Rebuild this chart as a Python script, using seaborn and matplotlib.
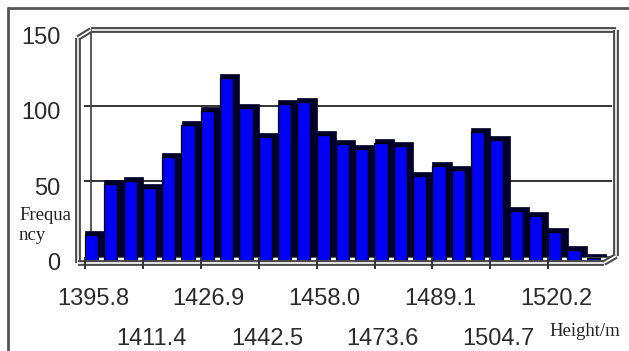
import matplotlib
matplotlib.use("Agg")
import numpy as np
import pandas as pd
import seaborn as sns
import matplotlib.pyplot as plt
import matplotlib.patheffects as pe
from matplotlib.lines import Line2D
from matplotlib.transforms import ScaledTranslation

# height histogram: 27 bins, three bins between labelled ticks
bin_start = 1395.8
bin_width = 15.55 / 3
frequency = [17, 51, 53, 48, 69, 90, 99, 121, 101, 82, 104, 105, 83, 77, 74,
             78, 76, 56, 63, 60, 85, 80, 33, 30, 19, 7, 2]
tick_values = [1395.8, 1411.4, 1426.9, 1442.5, 1458.0, 1473.6, 1489.1, 1504.7, 1520.2]
tick_labels = ["1395.8", "1411.4", "1426.9", "1442.5", "1458.0",
               "1473.6", "1489.1", "1504.7", "1520.2"]
y_ticks = [0, 50, 100, 150]

centers = bin_start + bin_width * (np.arange(len(frequency)) + 0.5)
df = pd.DataFrame({"height": centers, "freq": frequency})

sns.set_style("white")
plt.rcParams["font.family"] = ["Liberation Sans", "DejaVu Sans"]

W, H = 629, 351
fig = plt.figure(figsize=(W / 100, H / 100), dpi=100)
fig.patch.set_facecolor("white")
ax = fig.add_axes([84 / W, 1 - 257 / H, 528 / W, 227 / H])

# dark depth of each bar, then the blue front face
n0 = len(ax.patches)
sns.barplot(data=df, x="height", y="freq", native_scale=True, width=1.0,
            color="#00002a", saturation=1, edgecolor="#00002a", linewidth=0.5,
            errorbar=None, ax=ax)
n1 = len(ax.patches)
sns.barplot(data=df, x="height", y="freq", native_scale=True, width=0.68,
            color="#0000f5", saturation=1, edgecolor="black", linewidth=0.9,
            errorbar=None, ax=ax)
shift = ScaledTranslation(-3.1 / 100, -4 / 100, fig.dpi_scale_trans)
for p in ax.patches[n1:]:
    p.set_transform(ax.transData + shift)
    p.set_clip_on(False)
    p.set_zorder(3)
for p in ax.patches[n0:n1]:
    p.set_zorder(2)

px_per_unit = 19.3 / bin_width
x_lo = bin_start - 1 / px_per_unit
ax.set_xlim(x_lo, x_lo + 528 / px_per_unit)
ax.set_ylim(0, 150)
ax.set_xlabel("")
ax.set_ylabel("")
for s in ax.spines.values():
    s.set_visible(False)
for yv in y_ticks[1:3]:
    ax.axhline(yv, color="#333333", lw=1.4, zorder=1)

# ticks and labels
ax.set_yticks(y_ticks)
ax.set_yticklabels([str(v) for v in y_ticks])
ax.tick_params(axis="y", length=0, pad=17, labelsize=17, labelcolor="#2b2b2b")
ax.set_xticks(tick_values)
ax.set_xticklabels(tick_labels)
ax.tick_params(axis="x", bottom=True, length=8.5, width=1.4, color="#333333",
               direction="out", labelsize=17, labelcolor="#2b2b2b")
for i, t in enumerate(ax.xaxis.get_major_ticks()):
    t.set_pad(13.5 if i % 2 == 0 else 42.5)
for lbl in ax.get_xticklabels():
    lbl.set_transform(lbl.get_transform() + ScaledTranslation(8 / 100, 0, fig.dpi_scale_trans))
for lbl in ax.get_yticklabels():
    lbl.set_transform(lbl.get_transform() + ScaledTranslation(0, -5 / 100, fig.dpi_scale_trans))
ax.xaxis.set_zorder(6)


def frame_line(xs, ys, z, double=True):
    fx = [x / W for x in xs]
    fy = [1 - y / H for y in ys]
    if double:
        ln = Line2D(fx, fy, transform=fig.transFigure, color="white", lw=1.2,
                    path_effects=[pe.Stroke(linewidth=4.2, foreground="#4a4a4a"), pe.Normal()],
                    zorder=z, clip_on=False, solid_capstyle="butt")
    else:
        ln = Line2D(fx, fy, transform=fig.transFigure, color="#4a4a4a", lw=1.3,
                    zorder=z, clip_on=False)
    ax.add_line(ln)


# 3D box: back wall, left wall, floor
frame_line([91, 616], [30, 30], 1)
frame_line([616, 616], [30, 256], 1)
frame_line([91, 91], [30, 257], 1, double=False)
frame_line([91, 616], [257, 257], 1, double=False)
frame_line([78, 78], [38, 263], 5)
frame_line([78, 91], [38, 30], 5)
frame_line([78, 604], [263, 263], 5)
frame_line([604, 616], [263, 256], 5)

fig.text(19 / W, 1 - 207 / H, "Frequa\nncy", va="top", ha="left",
         family=["Liberation Serif", "DejaVu Serif"], size=13.5, linespacing=1.25, color="#222222")
fig.text(549 / W, 1 - 331 / H, "Height/m", va="center", ha="left",
         family=["Liberation Serif", "DejaVu Serif"], size=13.5, color="#222222")

# screenshot border
fig.add_artist(Line2D([8 / W, 1], [1 - 8 / H, 1 - 8 / H], transform=fig.transFigure,
                      color="#555555", lw=2))
fig.add_artist(Line2D([8 / W, 8 / W], [0, 1 - 8 / H], transform=fig.transFigure,
                      color="#555555", lw=2))

fig.savefig("out.png", dpi=100, facecolor="white")
